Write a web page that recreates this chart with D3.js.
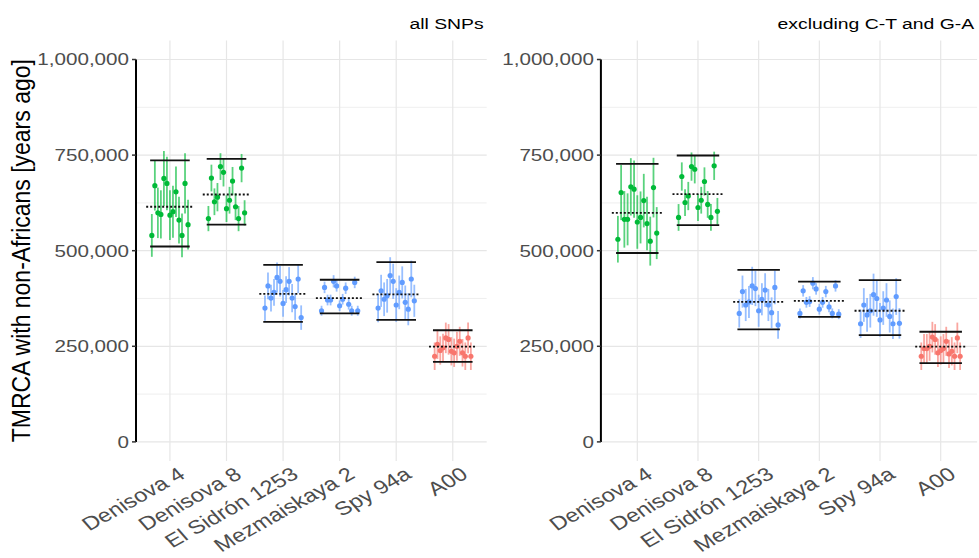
<!DOCTYPE html>
<html lang="en">
  <head>
    <meta charset="utf-8"/>
    <title>TMRCA with non-Africans</title>
    <script src="https://cdn.jsdelivr.net/npm/d3@7"></script>
    <style>
      body { margin: 0; background: #fff; }
      text { font-family: "Liberation Sans", Arial, sans-serif; }
    </style>
  </head>
  <body>
    <div id="chart"></div>
    <script>

      // samples on the x axis
      var samples = ["Denisova 4", "Denisova 8", "El Sidrón 1253", "Mezmaiskaya 2", "Spy 94a", "A00"];
      var sampleColours = ["#00BA38", "#00BA38", "#619CFF", "#619CFF", "#619CFF", "#F8766D"];

      // y breaks, thousands of years
      var yMajor = [0, 250, 500, 750, 1000];
      var yMinor = [125, 375, 625, 875];

      // all SNPs: one estimate (and half error bar) per non-African, in thousands of years
      var allEst = [
        [540, 670, 599, 595, 689, 676, 593, 602, 654, 580, 540, 676, 568],
        [584, 690, 628, 640, 720, 705, 610, 632, 682, 615, 584, 716, 599],
        [350, 408, 376, 391, 430, 420, 362, 398, 420, 376, 354, 426, 325],
        [343, 404, 371, 371, 420, 408, 356, 373, 402, 360, 343, 417, 343],
        [350, 395, 373, 382, 435, 420, 358, 391, 417, 365, 347, 426, 369],
        [224, 255, 239, 246, 272, 268, 237, 233, 250, 263, 233, 224, 272, 224]
      ];
      var allErr = [
        [56, 65, 66, 63, 72, 70, 65, 68, 66, 61, 57, 79, 65],
        [33, 35, 35, 37, 35, 37, 35, 35, 37, 35, 33, 37, 33],
        [33, 35, 35, 35, 39, 40, 35, 35, 37, 37, 35, 37, 32],
        [13, 15, 14, 14, 16, 15, 14, 14, 15, 14, 13, 15, 13],
        [37, 42, 44, 44, 48, 46, 44, 44, 42, 44, 42, 48, 42],
        [36, 38, 37, 37, 40, 40, 37, 37, 38, 38, 36, 36, 40, 36]
      ];
      var allUpper = [736, 740, 463, 424, 470, 292];
      var allMean = [615, 647, 387, 376, 386, 249];
      var allLower = [511, 568, 314, 336, 319, 209];

      // excluding C-T and G-A
      var exclEst = [
        [530, 652, 582, 582, 667, 661, 575, 587, 631, 571, 525, 665, 546],
        [587, 694, 626, 643, 720, 713, 613, 632, 681, 621, 587, 722, 603],
        [336, 393, 358, 366, 408, 401, 343, 373, 397, 358, 338, 404, 306],
        [336, 395, 365, 367, 415, 400, 347, 365, 393, 353, 336, 408, 334],
        [309, 358, 332, 343, 385, 375, 319, 350, 371, 328, 309, 380, 310],
        [224, 244, 244, 250, 274, 268, 233, 239, 244, 263, 230, 237, 224, 272, 224]
      ];
      var exclErr = [
        [61, 72, 74, 68, 75, 75, 70, 68, 70, 70, 64, 78, 68],
        [35, 37, 35, 37, 37, 37, 35, 35, 37, 35, 35, 37, 35],
        [37, 42, 42, 42, 50, 46, 42, 42, 44, 42, 40, 44, 36],
        [13, 15, 14, 14, 16, 15, 14, 14, 15, 14, 13, 15, 13],
        [37, 44, 44, 44, 55, 48, 44, 44, 44, 42, 40, 48, 40],
        [36, 38, 38, 38, 40, 40, 37, 37, 38, 38, 37, 37, 36, 40, 36]
      ];
      var exclUpper = [727, 749, 450, 419, 423, 288];
      var exclMean = [599, 648, 366, 369, 343, 249];
      var exclLower = [494, 567, 294, 327, 279, 206];

      // the picture is a little wider than tall, so text is stretched sideways
      var SX = 1.25;
      var w = 979;
      var h = 558;

      var svg = d3.select("#chart")
        .append("svg")
        .attr("width", w)
        .attr("height", h)
      ;

      var y = d3.scaleLinear()
        .domain([-50, 1050])
        .range([461, 40.4])
      ;
      var fmt = function(d) { return d3.format(",")(d * 1000); };

      // y axis title, only on the left plot
      svg.append("text")
        .attr("transform", "translate(30," + y(500) + ") scale(1.1,1) rotate(-90)")
        .attr("text-anchor", "middle")
        .style("font-size", "23px")
        .style("fill", "#000")
        .text("TMRCA with non-Africans [years ago]")
      ;

      drawPanel(136, 486.7, "all SNPs", allEst, allErr, allUpper, allMean, allLower);
      drawPanel(600.9, 977.1, "excluding C-T and G-A", exclEst, exclErr, exclUpper, exclMean, exclLower);

      function drawPanel(left, right, title, est, err, upper, mean, lower) {
        var x = d3.scalePoint()
          .domain(samples)
          .range([left, right])
          .padding(0.6)
        ;
        var step = x.step();
        var g = svg.append("g");

        // grid
        g.selectAll(".minor")
          .data(yMinor)
          .enter()
          .append("line")
          .attr("x1", left).attr("x2", right)
          .attr("y1", function(d) { return y(d); })
          .attr("y2", function(d) { return y(d); })
          .style("stroke", "#ebebeb")
          .style("stroke-width", 0.8)
        ;
        g.selectAll(".major")
          .data(yMajor)
          .enter()
          .append("line")
          .attr("x1", left).attr("x2", right)
          .attr("y1", function(d) { return y(d); })
          .attr("y2", function(d) { return y(d); })
          .style("stroke", "#e6e6e6")
          .style("stroke-width", 1.2)
        ;
        g.selectAll(".vgrid")
          .data(samples)
          .enter()
          .append("line")
          .attr("x1", function(d) { return x(d); })
          .attr("x2", function(d) { return x(d); })
          .attr("y1", y.range()[0])
          .attr("y2", y.range()[1])
          .style("stroke", "#e6e6e6")
          .style("stroke-width", 1.2)
        ;

        // y axis line and ticks
        g.append("line")
          .attr("x1", left).attr("x2", left)
          .attr("y1", y(0)).attr("y2", y(1000))
          .style("stroke", "#000")
          .style("stroke-width", 2)
        ;
        g.selectAll(".tick")
          .data(yMajor)
          .enter()
          .append("line")
          .attr("x1", left - 4).attr("x2", left)
          .attr("y1", function(d) { return y(d); })
          .attr("y2", function(d) { return y(d); })
          .style("stroke", "#333")
          .style("stroke-width", 1.5)
        ;
        g.selectAll(".ylab")
          .data(yMajor)
          .enter()
          .append("text")
          .attr("transform", function(d) {
            return "translate(" + (left - 7) + "," + y(d) + ") scale(" + SX + ",1)";
          })
          .attr("text-anchor", "end")
          .attr("dy", "0.36em")
          .style("font-size", "16.5px")
          .style("fill", "#4d4d4d")
          .text(fmt)
        ;

        // rotated sample labels
        g.selectAll(".xlab")
          .data(samples)
          .enter()
          .append("text")
          .attr("transform", function(d) {
            return "translate(" + (x(d) + 7) + ",466) scale(" + SX + ",1) rotate(-35)";
          })
          .attr("text-anchor", "end")
          .attr("dy", "0.71em")
          .style("font-size", "19px")
          .style("fill", "#4d4d4d")
          .text(function(d) { return d; })
        ;

        // title, right aligned on the panel
        g.append("text")
          .attr("transform", "translate(" + (right - 3) + ",29) scale(" + SX + ",1)")
          .attr("text-anchor", "end")
          .style("font-size", "15.5px")
          .style("fill", "#000")
          .text(title)
        ;

        // one group per sample
        samples.forEach(function(s, i) {
          var cx = x(s);
          var col = sampleColours[i];
          var jit = d3.scalePoint()
            .domain(d3.range(est[i].length))
            .range([-0.32 * step, 0.32 * step])
          ;
          var pts = est[i].map(function(v, j) { return {v: v, e: err[i][j], j: j}; });
          var grp = g.append("g");

          grp.selectAll(".bar")
            .data(pts)
            .enter()
            .append("line")
            .attr("x1", function(d) { return cx + jit(d.j); })
            .attr("x2", function(d) { return cx + jit(d.j); })
            .attr("y1", function(d) { return y(d.v - d.e); })
            .attr("y2", function(d) { return y(d.v + d.e); })
            .style("stroke", col)
            .style("stroke-opacity", 0.65)
            .style("stroke-width", 1.8)
          ;
          grp.selectAll(".pt")
            .data(pts)
            .enter()
            .append("circle")
            .attr("cx", function(d) { return cx + jit(d.j); })
            .attr("cy", function(d) { return y(d.v); })
            .attr("r", 2.6)
            .style("fill", col)
          ;

          // solid lines for the interval, dotted for the mean
          [upper[i], lower[i]].forEach(function(v) {
            grp.append("line")
              .attr("x1", cx - 0.35 * step).attr("x2", cx + 0.35 * step)
              .attr("y1", y(v)).attr("y2", y(v))
              .style("stroke", "#111")
              .style("stroke-width", 1.8)
            ;
          });
          grp.append("line")
            .attr("x1", cx - 0.42 * step).attr("x2", cx + 0.42 * step)
            .attr("y1", y(mean[i])).attr("y2", y(mean[i]))
            .style("stroke", "#111")
            .style("stroke-width", 1.8)
            .style("stroke-dasharray", "2,2")
          ;
        });
      }
    </script>
  </body>
</html>
